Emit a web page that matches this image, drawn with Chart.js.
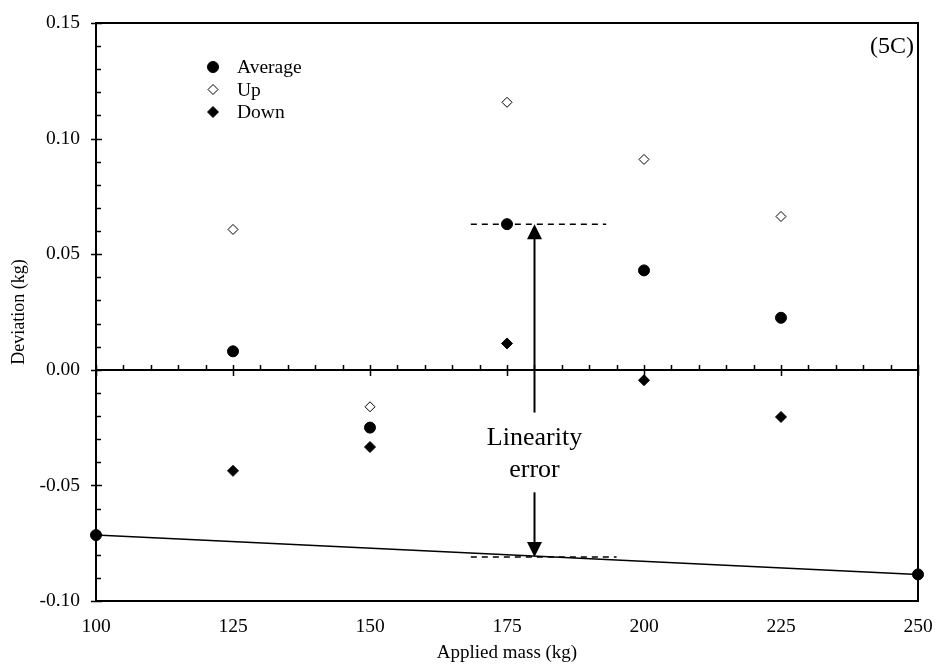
<!DOCTYPE html>
<html>
<head>
<meta charset="utf-8">
<script src="https://cdn.jsdelivr.net/npm/chart.js@4.4.1/dist/chart.umd.min.js"></script>
<style>
  html, body { margin: 0; padding: 0; background: #fff; }
  #wrap { width: 935px; height: 664px; }
</style>
</head>
<body>
<div id="wrap"><canvas id="devChart" width="935" height="664"></canvas></div>
<script>
// Data
const massKg = [100, 125, 150, 175, 200, 225, 250];
const averageDev = [-0.0715, 0.008, -0.025, 0.063, 0.043, 0.0225, -0.0885];
const upMass = [125, 150, 175, 200, 225];
const upDev = [0.0607, -0.016, 0.1157, 0.091, 0.0663];
const downMass = [125, 150, 175, 200, 225];
const downDev = [-0.0437, -0.0334, 0.0114, -0.0045, -0.0204];
const fitMass = [100, 250];
const fitDev = [-0.0715, -0.0885];
const upperRefMass = [168.4, 193.1];
const upperRefDev = [0.063, 0.063];
const lowerRefMass = [168.4, 195];
const lowerRefDev = [-0.081, -0.081];
// arrow: x position, then [from, to] for the two arrows
const arrowMass = 180;
const arrowUp = [-0.0185, 0.063];
const arrowDown = [-0.053, -0.081];
const noteLines = ["Linearity", "error"];
const noteDev = [-0.0297, -0.0432];
const legendLabels = ["Average", "Up", "Down"];
const panelLabel = "(5C)";

const SERIF = "'Liberation Serif', 'Times New Roman', serif";

function pts(xs, ys) { return xs.map((x, i) => ({ x, y: ys[i] })); }

// frame, zero axis and tick marks
const axesPlugin = {
  id: 'axesPlugin',
  beforeDatasetsDraw(chart) {
    const { ctx, chartArea: a, scales: { x, y } } = chart;
    ctx.save();
    ctx.strokeStyle = '#000';
    ctx.lineWidth = 2;
    ctx.strokeRect(a.left, a.top, a.right - a.left, a.bottom - a.top);
    const y0 = Math.round(y.getPixelForValue(0));
    ctx.beginPath();
    ctx.moveTo(a.left, y0);
    ctx.lineTo(a.right, y0);
    ctx.stroke();

    ctx.lineWidth = 1.5;
    ctx.beginPath();
    // y ticks every 0.01, major every 0.05
    for (let k = -10; k <= 15; k++) {
      const py = Math.round(y.getPixelForValue(k / 100)) + 0.5;
      if (k % 5 === 0) {
        ctx.moveTo(a.left - 5, py); ctx.lineTo(a.left + 6, py);
      } else {
        ctx.moveTo(a.left, py); ctx.lineTo(a.left + 5, py);
      }
    }
    // x ticks on zero line, every 5, major every 25
    for (let m = 100; m <= 250; m += 5) {
      const px = Math.round(x.getPixelForValue(m)) + 0.5;
      if (m % 25 === 0) {
        ctx.moveTo(px, y0 - 5); ctx.lineTo(px, y0 + 6);
      } else {
        ctx.moveTo(px, y0 - 5); ctx.lineTo(px, y0);
      }
    }
    ctx.stroke();
    ctx.restore();
  },
  afterDatasetsDraw(chart) {
    const { ctx, chartArea: a, scales: { x, y } } = chart;
    ctx.save();
    ctx.strokeStyle = '#000';
    ctx.fillStyle = '#000';
    const ax = Math.round(x.getPixelForValue(arrowMass)) + 0.5;

    function arrow(from, to) {
      const y1 = y.getPixelForValue(from);
      const y2 = y.getPixelForValue(to);
      const dir = y2 < y1 ? 1 : -1;
      ctx.lineWidth = 2;
      ctx.beginPath();
      ctx.moveTo(ax, y1);
      ctx.lineTo(ax, y2 + dir * 14);
      ctx.stroke();
      ctx.beginPath();
      ctx.moveTo(ax, y2);
      ctx.lineTo(ax - 7.5, y2 + dir * 15);
      ctx.lineTo(ax + 7.5, y2 + dir * 15);
      ctx.closePath();
      ctx.fill();
    }
    arrow(arrowUp[0], arrowUp[1]);
    arrow(arrowDown[0], arrowDown[1]);

    ctx.font = `26px ${SERIF}`;
    ctx.textAlign = 'center';
    ctx.textBaseline = 'middle';
    noteLines.forEach((t, i) => ctx.fillText(t, ax, y.getPixelForValue(noteDev[i])));

    // panel label
    ctx.font = `24px ${SERIF}`;
    ctx.textAlign = 'right';
    ctx.fillText(panelLabel, a.right - 4, 47);

    // legend
    const styles = chart.data.datasets.slice(0, 3);
    ctx.font = `19.5px ${SERIF}`;
    ctx.textAlign = 'left';
    legendLabels.forEach((t, i) => {
      const ly = 67 + i * 22.5;
      const ds = styles[i];
      ctx.fillStyle = ds.pointBackgroundColor;
      ctx.strokeStyle = ds.pointBorderColor;
      ctx.lineWidth = ds.pointBorderWidth;
      Chart.helpers.drawPoint(ctx, { pointStyle: ds.pointStyle, radius: ds.pointRadius, rotation: 0, borderWidth: ds.pointBorderWidth }, 213, ly);
      ctx.fillStyle = '#000';
      ctx.fillText(t, 237, ly + 1);
    });
    ctx.restore();
  }
};

const ctx = document.getElementById('devChart').getContext('2d');
new Chart(ctx, {
  type: 'scatter',
  data: {
    datasets: [
      {
        label: 'Average',
        data: pts(massKg, averageDev),
        pointStyle: 'circle',
        pointRadius: 5.5,
        pointBackgroundColor: '#000',
        pointBorderColor: '#000',
        pointBorderWidth: 1,
        clip: false,
        order: 1,
      },
      {
        label: 'Up',
        data: pts(upMass, upDev),
        pointStyle: 'rectRot',
        pointRadius: 5,
        pointBackgroundColor: '#fff',
        pointBorderColor: '#000',
        pointBorderWidth: 1,
        order: 1,
      },
      {
        label: 'Down',
        data: pts(downMass, downDev),
        pointStyle: 'rectRot',
        pointRadius: 5.5,
        pointBackgroundColor: '#000',
        pointBorderColor: '#000',
        pointBorderWidth: 1,
        order: 1,
      },
      {
        type: 'line',
        label: 'fit',
        data: pts(fitMass, fitDev),
        borderColor: '#000',
        borderWidth: 1.5,
        pointRadius: 0,
        clip: false,
        order: 2,
      },
      {
        type: 'line',
        label: 'upperRef',
        data: pts(upperRefMass, upperRefDev),
        borderColor: '#000',
        borderWidth: 1.5,
        borderDash: [6, 5],
        pointRadius: 0,
        order: 2,
      },
      {
        type: 'line',
        label: 'lowerRef',
        data: pts(lowerRefMass, lowerRefDev),
        borderColor: '#000',
        borderWidth: 1.5,
        borderDash: [6, 5],
        pointRadius: 0,
        order: 2,
      },
    ],
  },
  options: {
    responsive: false,
    animation: false,
    devicePixelRatio: 1,
    layout: { padding: { left: 0, right: 17, top: 23, bottom: 0 } },
    plugins: { legend: { display: false }, tooltip: { enabled: false } },
    scales: {
      x: {
        type: 'linear',
        min: 100,
        max: 250,
        ticks: { stepSize: 25, padding: 14, color: '#000', font: { family: SERIF, size: 19.5 } },
        grid: { display: false, drawTicks: false },
        border: { display: false },
        title: { display: true, text: 'Applied mass (kg)', color: '#000', font: { family: SERIF, size: 19 }, padding: { top: 1, bottom: 0 } },
        afterFit: (s) => { s.height = 63; s.paddingLeft = 0; s.paddingRight = 0; },
      },
      y: {
        min: -0.1,
        max: 0.15,
        ticks: { stepSize: 0.05, padding: 16, color: '#000', font: { family: SERIF, size: 19.5 }, callback: (v) => v.toFixed(2) },
        grid: { display: false, drawTicks: false },
        border: { display: false },
        title: { display: true, text: 'Deviation (kg)', color: '#000', font: { family: SERIF, size: 18 }, padding: { top: 8, bottom: 0 } },
        afterFit: (s) => { s.width = 96; s.paddingTop = 0; s.paddingBottom = 0; },
      },
    },
  },
  plugins: [axesPlugin],
});
</script>
</body>
</html>
